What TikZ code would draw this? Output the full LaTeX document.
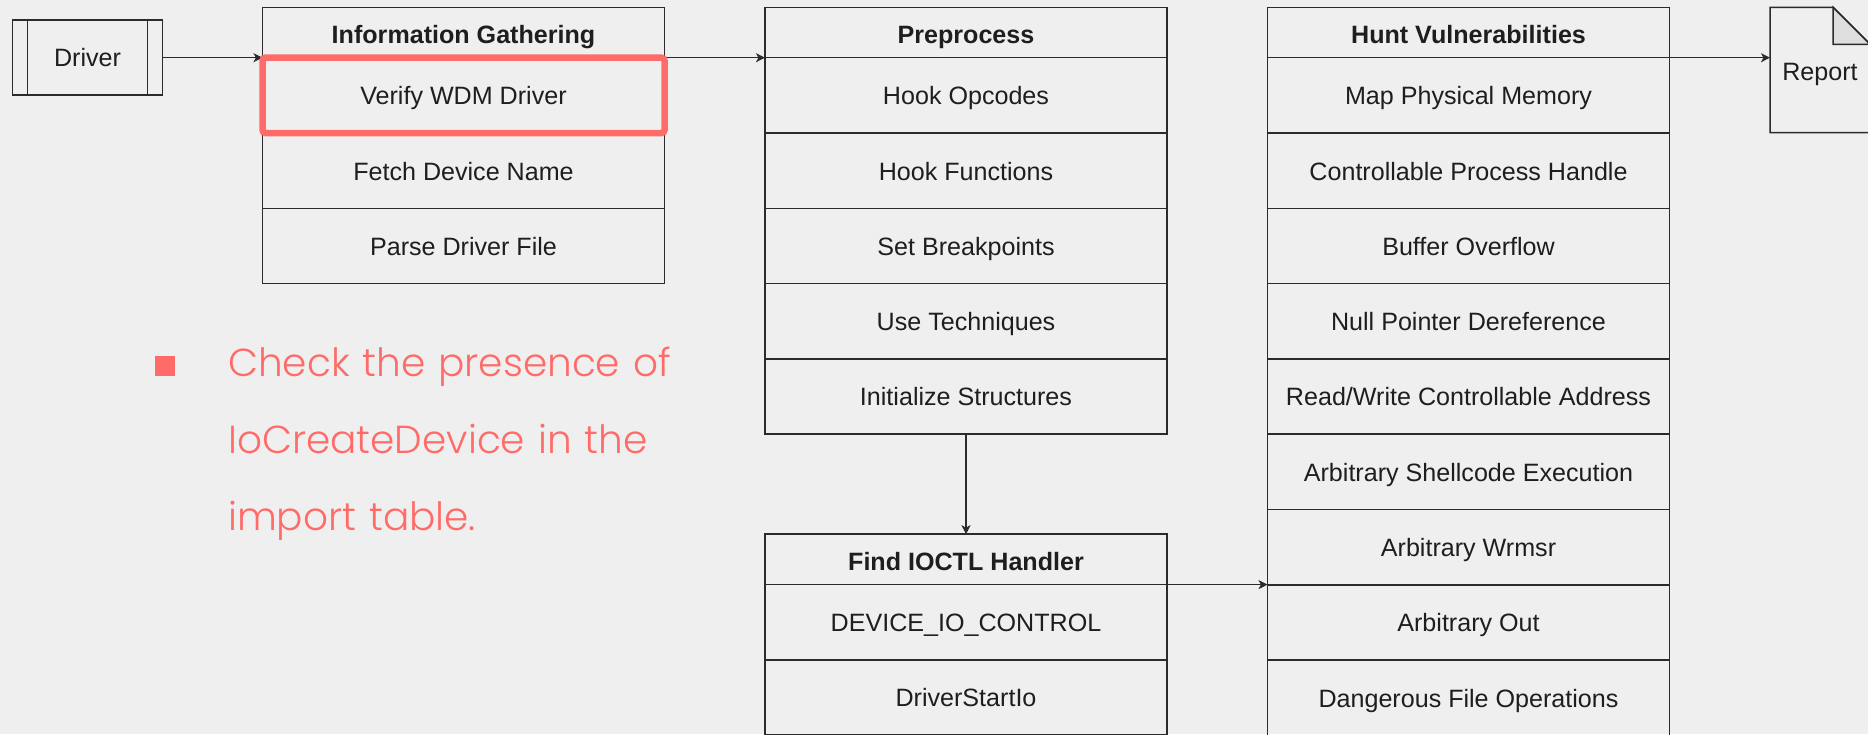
\documentclass[tikz,border=0pt]{standalone}
\usepackage{fontspec}
\setmainfont{Liberation Sans}
\IfFontExistsTF{Poppins Light}{\newfontfamily\notefont{Poppins Light}}{\newfontfamily\notefont{Poppins}}
\usetikzlibrary{arrows.meta, positioning, fit}
\definecolor{pagebg}{HTML}{EFEFEF}
\definecolor{linegray}{HTML}{2B2B2B}
\definecolor{textdark}{HTML}{1E1E1E}
\definecolor{hlred}{HTML}{FF6B68}
\definecolor{foldgray}{HTML}{DEDEDE}

\begin{document}
\begin{tikzpicture}[
    node distance=0pt and 50.25pt,
    font=\fontsize{12.55}{15}\selectfont,
    text=textdark,
    lanehead/.style={rectangle, draw=linegray, line width=0.75pt,
                     minimum width=201pt, minimum height=25.2pt,
                     text height=10.8pt, text depth=0pt,
                     inner sep=0pt, outer sep=0pt,
                     font=\fontsize{12.55}{15}\selectfont\bfseries},
    lanerow/.style={rectangle, draw=linegray, line width=0.75pt,
                    minimum width=201pt, minimum height=37.65pt,
                    text height=9.4pt, text depth=0pt,
                    inner sep=0pt, outer sep=0pt},
    procbox/.style={rectangle, draw=linegray, line width=0.75pt,
                    minimum width=75pt, minimum height=37.5pt,
                    text height=9.2pt, text depth=0pt,
                    inner sep=0pt, outer sep=0pt},
    docbox/.style={rectangle, minimum width=50pt, minimum height=62.7pt,
                   text height=10pt, text depth=0pt,
                   inner sep=0pt, outer sep=0pt},
    docline/.style={draw=linegray, line width=0.75pt},
    hlbox/.style={rectangle, draw=hlred, line width=3.25pt,
                  rounded corners=1.5pt, inner sep=0pt},
    notetext/.style={align=left, text width=240pt, inner sep=0pt, text=hlred,
                     font=\notefont\fontsize{19.5}{38.5}\selectfont},
    bulletsq/.style={rectangle, fill=hlred, minimum size=10pt, inner sep=0pt},
    arrow/.style={-{Stealth[length=4.5pt, width=4.5pt, inset=1.2pt]},
                  draw=linegray, line width=0.75pt},
  ]

  \useasboundingbox (0,0) rectangle (934pt,-367pt);
  \fill[pagebg] (0,0) rectangle (934pt,-367pt);

  % Information gathering lane
  \node[lanehead, anchor=north west] (info) at (131.25pt,-3.65pt) {Information Gathering};
  \node[lanerow, below=of info] (verify) {Verify WDM Driver};
  \node[lanerow, below=of verify] (fetch) {Fetch Device Name};
  \node[lanerow, below=of fetch] (parse) {Parse Driver File};

  % Preprocess lane
  \node[lanehead, right=of info] (prep) {Preprocess};
  \node[lanerow, below=of prep] (hookop) {Hook Opcodes};
  \node[lanerow, below=of hookop] (hookfn) {Hook Functions};
  \node[lanerow, below=of hookfn] (breakp) {Set Breakpoints};
  \node[lanerow, below=of breakp] (tech) {Use Techniques};
  \node[lanerow, below=of tech] (initst) {Initialize Structures};

  % IOCTL handler lane
  \node[lanehead, below=50pt of initst] (ioctl) {Find IOCTL Handler};
  \node[lanerow, below=of ioctl] (devio) {DEVICE\_IO\_CONTROL};
  \node[lanerow, below=of devio] (startio) {DriverStartIo};

  % Vulnerability lane
  \node[lanehead, right=of prep] (hunt) {Hunt Vulnerabilities};
  \node[lanerow, below=of hunt] (mapmem) {Map Physical Memory};
  \node[lanerow, below=of mapmem] (prochandle) {Controllable Process Handle};
  \node[lanerow, below=of prochandle] (bufovf) {Buffer Overflow};
  \node[lanerow, below=of bufovf] (nullptr) {Null Pointer Dereference};
  \node[lanerow, below=of nullptr] (rwaddr) {Read/Write Controllable Address};
  \node[lanerow, below=of rwaddr] (shellcode) {Arbitrary Shellcode Execution};
  \node[lanerow, below=of shellcode] (wrmsr) {Arbitrary Wrmsr};
  \node[lanerow, below=of wrmsr] (arbout) {Arbitrary Out};
  \node[lanerow, below=of arbout] (fileops) {Dangerous File Operations};

  % Input and output
  \node[procbox, left=50pt of info.south west] (driver) {Driver};
  \draw[docline] ([xshift=7.5pt]driver.north west) -- ([xshift=7.5pt]driver.south west)
                 ([xshift=-7.5pt]driver.north east) -- ([xshift=-7.5pt]driver.south east);

  \node[docbox, right=of hunt.north east, anchor=north west] (report) {Report};
  \draw[docline] (report.north west) -- ([xshift=-18.5pt]report.north east)
    -- ([yshift=-18.5pt]report.north east) -- (report.south east)
    -- (report.south west) -- cycle;
  \draw[docline, fill=foldgray] ([xshift=-18.5pt]report.north east)
    -- ([xshift=-18.5pt, yshift=-18.5pt]report.north east)
    -- ([yshift=-18.5pt]report.north east) -- cycle;

  \draw[arrow] (driver) -- (driver -| info.west);
  \draw[arrow] (info.south east) -- (prep.south west);
  \draw[arrow] (initst) -- (ioctl);
  \draw[arrow] (ioctl.south east) -- (ioctl.south east -| wrmsr.west);
  \draw[arrow] (hunt.south east) -- (report.west |- hunt.south east);

  % highlight and note
  \node[hlbox, fit=(verify)] (verifymark) {};
  \node[notetext, anchor=base west] (note) at (113.85pt,-188pt)
    {Check the presence of\\IoCreateDevice in the\\import table.};
  \node[bulletsq, left=26.35pt of note.base west, anchor=south east] (bullet) {};

\end{tikzpicture}
\end{document}
